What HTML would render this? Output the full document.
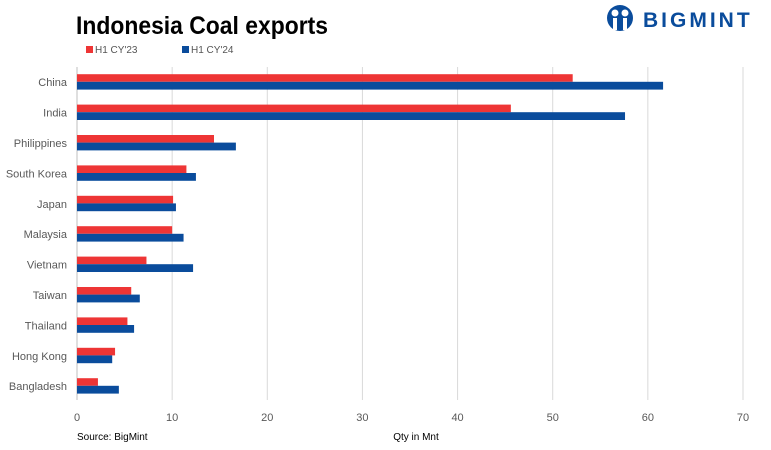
<!DOCTYPE html>
<html><head><meta charset="utf-8"><style>
body{margin:0;background:#fff;width:771px;height:450px;overflow:hidden;font-family:"Liberation Sans",sans-serif}
svg{display:block}
</style></head><body>
<svg width="771" height="450">
<text x="76" y="34" font-size="25" font-weight="bold" fill="#000" textLength="252" lengthAdjust="spacingAndGlyphs">Indonesia Coal exports</text>
<g>
<circle cx="620" cy="18" r="13" fill="#0a4c9c"/>
<circle cx="615" cy="13" r="3.5" fill="#fff"/><circle cx="625" cy="13" r="3.5" fill="#fff"/>
<rect x="613" y="18" width="4" height="12" fill="#fff"/><rect x="623" y="18" width="4" height="12" fill="#fff"/>
<text x="643" y="27" font-size="21" font-weight="bold" fill="#0a4c9c" letter-spacing="3">BIGMINT</text>
</g>
<g>
<rect x="86" y="46" width="7" height="7" fill="#ee3535"/>
<text x="95" y="53" font-size="10" fill="#555">H1 CY'23</text>
<rect x="182" y="46" width="7" height="7" fill="#0a4c9c"/>
<text x="191" y="53" font-size="10" fill="#555">H1 CY'24</text>
</g>
<g id="grid"></g><g id="bars"></g><g id="labels"></g>
<text x="77" y="440" font-size="10" fill="#000">Source: BigMint</text>
<text x="416" y="440" font-size="10" fill="#000" text-anchor="middle">Qty in Mnt</text>
</svg>
<script>
const categories=["China","India","Philippines","South Korea","Japan","Malaysia","Vietnam","Taiwan","Thailand","Hong Kong","Bangladesh"];
const seriesH1CY23=[52.1,45.6,14.4,11.5,10.1,10.0,7.3,5.7,5.3,4.0,2.2];
const seriesH1CY24=[61.6,57.6,16.7,12.5,10.4,11.2,12.2,6.6,6.0,3.7,4.4];
const xTicks=[0,10,20,30,40,50,60,70];
const NS="http://www.w3.org/2000/svg";
const x0=77,x1=743,xMax=70,yTop=67,rowH=30.4;
const xs=v=>x0+(v/xMax)*(x1-x0);
const yc=i=>yTop+rowH*(i+0.5);
function mk(t,a,p){const e=document.createElementNS(NS,t);for(const k in a)e.setAttribute(k,a[k]);p.appendChild(e);return e;}
const grid=document.getElementById('grid'),bars=document.getElementById('bars'),labels=document.getElementById('labels');
xTicks.forEach(t=>{
 const l=mk('line',{x1:xs(t),x2:xs(t),y1:yTop,y2:400,stroke:t===0?'#bfbfbf':'#d9d9d9','stroke-width':1},grid);
 
 
 const tx=mk('text',{x:xs(t),y:421,'font-size':11,fill:'#595959','text-anchor':'middle'},labels);
 tx.textContent=t;
 
 
});
categories.forEach((c,i)=>{
 const y=yc(i);
 const r=mk('rect',{x:x0,y:y-8,width:xs(seriesH1CY23[i])-x0,height:7.6,fill:'#ee3535'},bars);
 
 
 const b=mk('rect',{x:x0,y:y-0.4,width:xs(seriesH1CY24[i])-x0,height:7.8,fill:'#0a4c9c'},bars);
 
 
 const t=mk('text',{x:67,y:y+4,'font-size':11,fill:'#595959','text-anchor':'end'},labels);
 t.textContent=c;
 
 
});
</script>
</body></html>
